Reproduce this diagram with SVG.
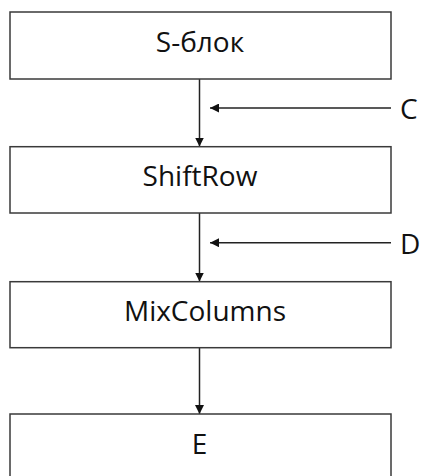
<svg xmlns="http://www.w3.org/2000/svg" width="424" height="476" viewBox="0 0 424 476">
<defs>
<style>
.box{fill:#fff;stroke:#3a3a3a;stroke-width:1.5}
.lbl{font-family:"Open Sans","Noto Sans",sans-serif;font-size:28px;fill:#111;text-anchor:middle}
.side{font-family:"Open Sans","Noto Sans",sans-serif;font-size:28px;fill:#111}
.con{stroke:#222;stroke-width:1.5;fill:none;marker-end:url(#ah)}
</style>
<marker id="ah" viewBox="0 0 10 10" refX="10" refY="5" markerWidth="6" markerHeight="6" markerUnits="strokeWidth" orient="auto">
<path d="M0,0 L10,5 L0,10 Z" fill="#111"/>
</marker>
</defs>
<rect width="424" height="476" fill="#fff"/>
<g id="connectors">
<line class="con" x1="199.5" y1="79" x2="199.5" y2="146.5"/>
<line class="con" x1="199.5" y1="213" x2="199.5" y2="281.5"/>
<line class="con" x1="199.5" y1="347.7" x2="199.5" y2="414"/>
<line class="con" x1="391" y1="108" x2="210" y2="108"/>
<line class="con" x1="391" y1="242.7" x2="210" y2="242.7"/>
</g>
<g id="node-sblock">
<rect class="box" x="10" y="12" width="381" height="67"/>
<text class="lbl" x="200" y="52">S-блок</text>
</g>
<g id="node-shiftrow">
<rect class="box" x="10" y="146.7" width="381" height="66.3"/>
<text class="lbl" x="200" y="186">ShiftRow</text>
</g>
<g id="node-mixcolumns">
<rect class="box" x="10" y="281.7" width="381" height="66"/>
<text class="lbl" x="205" y="321">MixColumns</text>
</g>
<g id="node-e">
<rect class="box" x="10" y="414" width="381" height="80"/>
<text class="lbl" x="199.5" y="454">E</text>
</g>
<g id="label-c"><text class="side" x="400" y="119">C</text></g>
<g id="label-d"><text class="side" x="400" y="253.5">D</text></g>
</svg>
